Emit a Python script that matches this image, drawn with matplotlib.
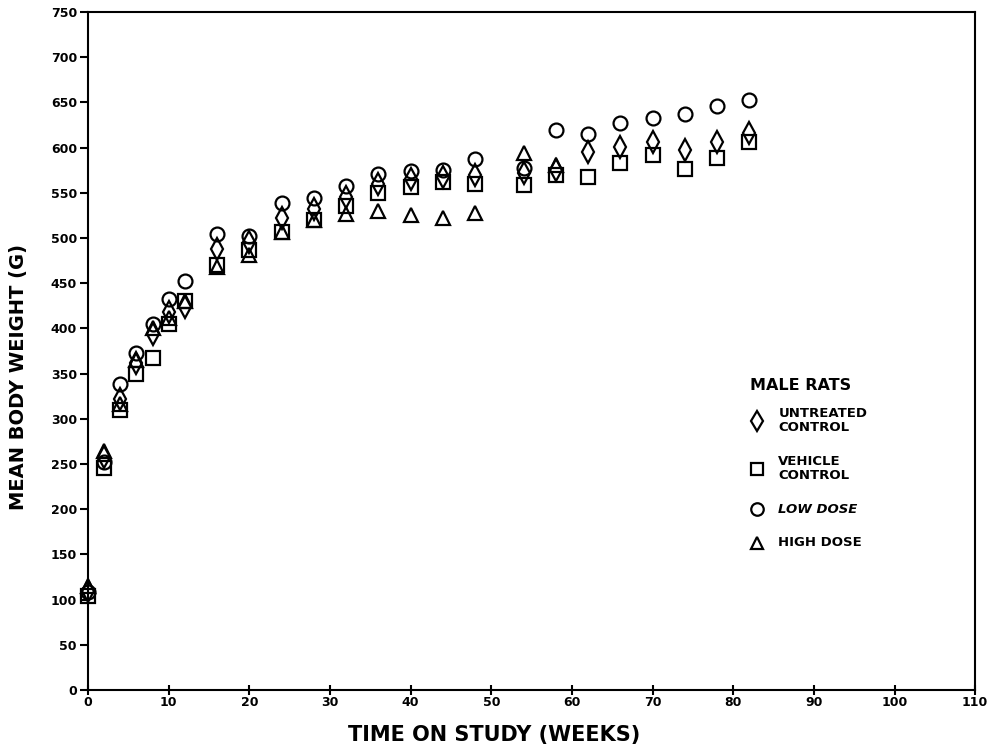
import matplotlib
matplotlib.use("Agg")
import matplotlib.pyplot as plt

plt.rcParams['font.family'] = ['DejaVu Sans']

weeks = [0, 2, 4, 6, 8, 10, 12, 16, 20, 24, 28, 32, 36, 40, 44, 48, 54, 58,
         62, 66, 70, 74, 78, 82]
untreated = [110, 258, 322, 362, 394, 418, 424, 488, 496, 522, 532, 545, 560,
             565, 567, 570, 572, 575, 595, 601, 606, 597, 606, 616]
vehicle = [104, 246, 310, 350, 367, 405, 430, 470, 487, 507, 520, 535, 550,
           557, 562, 560, 559, 570, 568, 583, 592, 576, 588, 606]
low_dose = [108, 252, 338, 373, 405, 433, 452, 504, 502, 539, 544, 558, 571,
            574, 575, 587, 578, 619, 615, 627, 633, 637, 646, 653]
high_weeks = [0, 2, 4, 6, 8, 10, 12, 16, 20, 24, 28, 32, 36, 40, 44, 48, 54, 58]
high_dose = [115, 264, 316, 365, 400, 412, 430, 468, 481, 507, 520, 527, 530,
             526, 522, 528, 594, 581]

fig = plt.figure(figsize=(9.89, 7.53), dpi=100)
ax = fig.add_axes([0.089, 0.0837, 0.897, 0.9003])

mk = dict(linestyle='none', markerfacecolor='none', markeredgecolor='black',
          markeredgewidth=1.6, markersize=10, clip_on=False)
ax.plot(weeks, untreated, marker='d', **{**mk, 'markersize': 11})
ax.plot(weeks, vehicle, marker='s', **mk)
ax.plot(weeks, low_dose, marker='o', **mk)
ax.plot(high_weeks, high_dose, marker='^', **mk)

ax.set_xlim(0, 110)
ax.set_ylim(0, 750)
ax.set_xticks(range(0, 111, 10))
ax.set_yticks(range(0, 751, 50))
for s in ax.spines.values():
    s.set_linewidth(1.5)
ax.tick_params(axis='y', direction='out', length=6, width=1.5, pad=2,
               labelsize=9)
ax.tick_params(axis='x', direction='inout', length=7, width=1.5, pad=1,
               labelsize=9)
for lab in ax.get_xticklabels() + ax.get_yticklabels():
    lab.set_fontweight('bold')

fig.text(0.5, 0.024, 'TIME ON STUDY (WEEKS)', ha='center', va='center',
         fontsize=15, fontweight='bold')
fig.text(0.019, 0.5, 'MEAN BODY WEIGHT (G)', ha='center', va='center',
         rotation=90, fontsize=14, fontweight='bold')

# legend drawn by hand as in the original figure
ax.text(82.1, 337, 'MALE RATS', fontsize=11.5, fontweight='bold', va='center')
leg = [('d', 'UNTREATED\nCONTROL', 298), ('s', 'VEHICLE\nCONTROL', 245),
       ('o', 'LOW DOSE', 200), ('^', 'HIGH DOSE', 163)]
for m, txt, yv in leg:
    ax.plot([83.0], [yv], marker=m, **{**mk, 'markersize': 10 if m == 'd' else 9})
    ax.text(85.6, yv, txt, fontsize=9.5, fontweight='bold', va='center',
            linespacing=1.05,
            fontstyle='italic' if txt == 'LOW DOSE' else 'normal')

fig.savefig('out.png', dpi=100)
